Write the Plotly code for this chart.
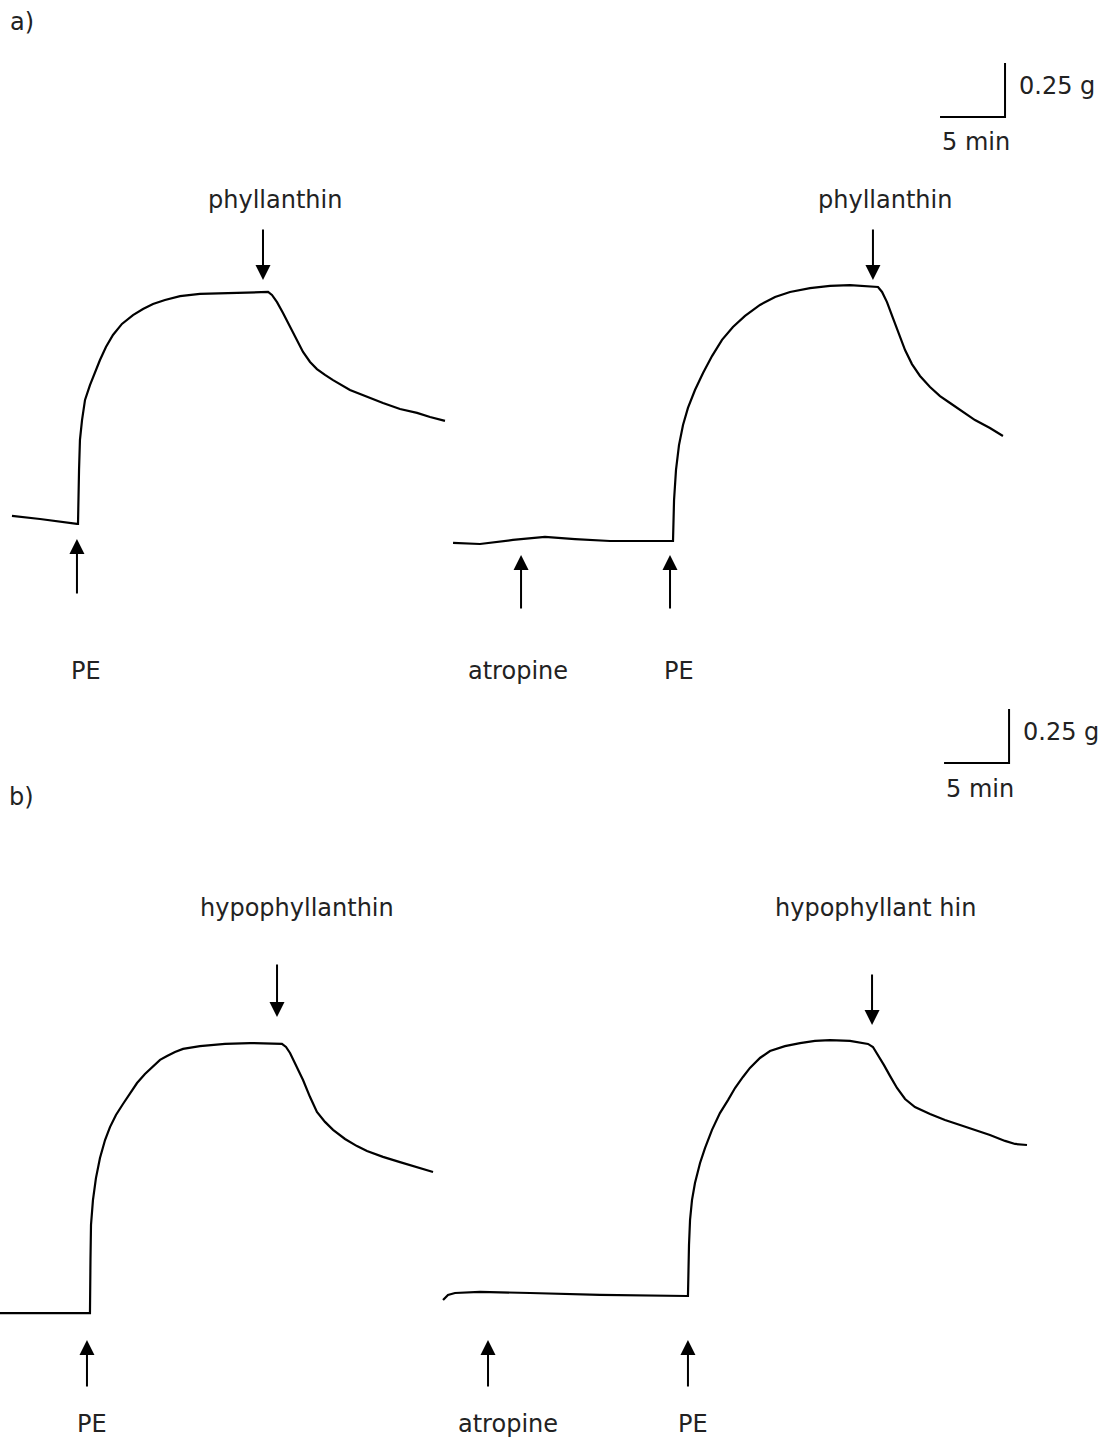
import plotly.graph_objects as go

W, H = 1111, 1441
PX_PER_MIN = 13.0   # horizontal scale
PX_PER_G = 216.0    # vertical scale
SPLIT_PX = 700      # page row where panel a ends and panel b starts
ZERO_A_PX = 541     # page row of 0 g in panel a
ZERO_B_PX = 1296    # page row of 0 g in panel b

FONT = "DejaVu Sans"
TXT = "#222222"

# ---- traces (time in min, tension in g relative to panel baseline) ----
a_ctrl_t = [0.92, 3.08, 5.92, 6.0, 6.08, 6.15, 6.31, 6.54, 6.92, 7.31, 7.69, 8.15, 8.69,
            9.38, 10.23, 11.0, 11.77, 12.69, 13.85, 15.38, 17.69, 20.62, 20.92, 21.31,
            21.77, 22.31, 22.85, 23.31, 23.85, 24.38, 25.0, 25.62, 26.92, 28.23, 29.46,
            30.77, 32.08, 33.08, 34.23]
a_ctrl_g = [0.116, 0.102, 0.079, 0.079, 0.329, 0.468, 0.560, 0.653, 0.722, 0.782, 0.838,
            0.898, 0.954, 1.005, 1.046, 1.074, 1.097, 1.116, 1.134, 1.144, 1.148, 1.153,
            1.139, 1.106, 1.056, 0.991, 0.926, 0.875, 0.829, 0.796, 0.769, 0.745, 0.699,
            0.667, 0.639, 0.611, 0.593, 0.574, 0.556]

a_atr_t = [34.85, 36.92, 39.46, 41.92, 44.23, 46.92, 51.69, 51.77, 51.85, 52.0, 52.23,
           52.54, 52.92, 53.46, 54.08, 54.77, 55.54, 56.38, 57.31, 58.46, 59.62, 60.77,
           62.31, 63.85, 65.38, 66.92, 67.54, 67.85, 68.23, 68.69, 69.15, 69.62, 70.15,
           70.77, 71.54, 72.31, 73.08, 73.85, 75.0, 76.15, 77.15]
a_atr_g = [-0.009, -0.014, 0.005, 0.019, 0.009, 0.0, 0.0, 0.0, 0.190, 0.329, 0.444,
           0.537, 0.616, 0.699, 0.778, 0.856, 0.931, 0.991, 1.042, 1.093, 1.130, 1.153,
           1.171, 1.181, 1.185, 1.181, 1.176, 1.153, 1.106, 1.032, 0.954, 0.884, 0.819,
           0.764, 0.713, 0.671, 0.639, 0.606, 0.560, 0.523, 0.486]

b_ctrl_t = [0.0, 6.85, 6.92, 6.96, 7.0, 7.15, 7.38, 7.69, 8.08, 8.46, 8.92, 9.46, 10.0,
            10.54, 11.15, 11.77, 12.31, 12.85, 13.46, 14.08, 15.38, 17.31, 19.23, 21.69,
            22.0, 22.31, 22.77, 23.31, 23.85, 24.38, 25.0, 25.62, 26.54, 27.46, 28.23,
            29.46, 30.77, 32.08, 33.31]
b_ctrl_g = [-0.079, -0.079, -0.079, 0.167, 0.329, 0.444, 0.546, 0.639, 0.722, 0.782,
            0.838, 0.889, 0.940, 0.986, 1.028, 1.065, 1.093, 1.111, 1.130, 1.144, 1.157,
            1.167, 1.171, 1.167, 1.153, 1.125, 1.065, 1.0, 0.921, 0.852, 0.806, 0.769,
            0.727, 0.694, 0.671, 0.644, 0.620, 0.597, 0.574]

b_atr_t = [34.08, 34.46, 35.0, 36.92, 40.77, 46.15, 52.85, 52.92, 53.0, 53.08, 53.23,
           53.46, 53.85, 54.23, 54.77, 55.38, 56.0, 56.54, 57.15, 57.69, 58.46, 59.23,
           60.38, 61.54, 62.69, 63.85, 65.38, 66.77, 67.15, 67.54, 68.0, 68.46, 69.0,
           69.62, 70.38, 71.54, 72.69, 73.85, 75.0, 76.15, 77.31, 78.08, 79.0]
b_atr_g = [-0.019, 0.005, 0.014, 0.019, 0.014, 0.005, 0.0, 0.0, 0.236, 0.352, 0.444,
           0.523, 0.616, 0.685, 0.769, 0.847, 0.907, 0.963, 1.014, 1.056, 1.102, 1.134,
           1.157, 1.171, 1.181, 1.185, 1.181, 1.167, 1.153, 1.116, 1.069, 1.019, 0.963,
           0.912, 0.875, 0.843, 0.815, 0.792, 0.769, 0.745, 0.718, 0.704, 0.699]

# ---- drug additions (time in min) ----
a_pe_t = [5.92, 51.54]
a_atropine_t = [40.08]
a_phyl_t = [20.23, 67.15]
b_pe_t = [6.69, 52.92]
b_atropine_t = [37.54]
b_phyl_t = [21.31, 67.08]

SCALE_MIN = 5
SCALE_G = 0.25


def g_of(px, zero_px):
    return (zero_px - px) / PX_PER_G


fig = go.Figure()

for t, g, ax in [(a_ctrl_t, a_ctrl_g, "y"), (a_atr_t, a_atr_g, "y"),
                 (b_ctrl_t, b_ctrl_g, "y2"), (b_atr_t, b_atr_g, "y2")]:
    fig.add_trace(go.Scatter(x=t, y=g, mode="lines", xaxis="x" if ax == "y" else "x2",
                             yaxis=ax, line=dict(color="black", width=2.2),
                             hoverinfo="skip", showlegend=False))


def label(text, x, y, xr, yr, anchor="center"):
    fig.add_annotation(x=x, y=y, xref=xr, yref=yr, text=text, showarrow=False,
                       xanchor=anchor, yanchor="middle",
                       font=dict(family=FONT, size=24, color=TXT))


def arrow(x, y_head, y_tail, xr, yr):
    fig.add_annotation(x=x, y=y_head, ax=x, ay=y_tail, xref=xr, yref=yr,
                       axref=xr, ayref=yr, text="", showarrow=True,
                       arrowhead=2, arrowsize=1.5, arrowwidth=2, arrowcolor="black")


def scale_bar(x0, y0, xr, yr, lab_y_mid, lab_y_min):
    xa = "x" if yr == "y" else "x2"
    fig.add_trace(go.Scatter(x=[x0, x0 + SCALE_MIN, x0 + SCALE_MIN],
                             y=[y0, y0, y0 + SCALE_G], mode="lines", xaxis=xa, yaxis=yr,
                             line=dict(color="black", width=2), hoverinfo="skip",
                             showlegend=False))
    label(f"{SCALE_G} g", x0 + SCALE_MIN + 0.9, lab_y_mid, xa, yr, anchor="left")
    label(f"{SCALE_MIN} min", x0 + SCALE_MIN / 2 + 0.3, lab_y_min, xa, yr)


# panel a
za = ZERO_A_PX
label("a)", 1.69, g_of(22, za), "x", "y")
scale_bar(72.31, g_of(117, za), "x", "y", g_of(86, za), g_of(142, za))
for t in a_phyl_t:
    arrow(t, g_of(280, za), g_of(228, za), "x", "y")
    label("phyllanthin", t + 0.95, g_of(200, za), "x", "y")
for t in a_pe_t:
    head = 539 if t < 20 else 555
    tail = 595 if t < 20 else 610
    arrow(t, g_of(head, za), g_of(tail, za), "x", "y")
    label("PE", t + 0.7, g_of(671, za), "x", "y")
for t in a_atropine_t:
    arrow(t, g_of(555, za), g_of(610, za), "x", "y")
    label("atropine", t - 0.2, g_of(671, za), "x", "y")

# panel b
zb = ZERO_B_PX
label("b)", 1.69, g_of(797, zb), "x2", "y2")
scale_bar(72.62, g_of(763, zb), "x2", "y2", g_of(732, zb), g_of(789, zb))
arrow(b_phyl_t[0], g_of(1017, zb), g_of(963, zb), "x2", "y2")
label("hypophyllanthin", b_phyl_t[0] + 1.5, g_of(908, zb), "x2", "y2")
arrow(b_phyl_t[1], g_of(1025, zb), g_of(973, zb), "x2", "y2")
label("hypophyllant hin", b_phyl_t[1] + 0.25, g_of(908, zb), "x2", "y2")
for t in b_pe_t:
    arrow(t, g_of(1340, zb), g_of(1388, zb), "x2", "y2")
    label("PE", t + 0.4, g_of(1424, zb), "x2", "y2")
for t in b_atropine_t:
    arrow(t, g_of(1340, zb), g_of(1388, zb), "x2", "y2")
    label("atropine", t + 1.5, g_of(1424, zb), "x2", "y2")

split = 1 - SPLIT_PX / H
axis_off = dict(visible=False, fixedrange=True)
fig.update_layout(
    width=W, height=H,
    margin=dict(l=0, r=0, t=0, b=0),
    paper_bgcolor="white", plot_bgcolor="white",
    xaxis=dict(domain=[0, 1], range=[0, W / PX_PER_MIN], anchor="y", **axis_off),
    yaxis=dict(domain=[split, 1], range=[g_of(SPLIT_PX, za), g_of(0, za)],
               anchor="x", **axis_off),
    xaxis2=dict(domain=[0, 1], range=[0, W / PX_PER_MIN], anchor="y2", **axis_off),
    yaxis2=dict(domain=[0, split], range=[g_of(H, zb), g_of(SPLIT_PX, zb)],
                anchor="x2", **axis_off),
    showlegend=False,
)

fig.write_html("out.html", config={"displayModeBar": False},
               post_script="document.body.style.margin='0';document.body.style.overflow='hidden';")
